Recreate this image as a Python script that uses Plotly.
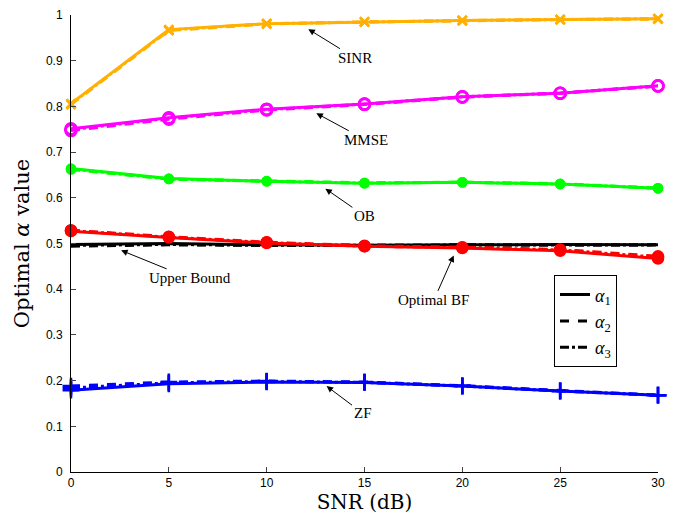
import plotly.graph_objects as go

snr = [0, 5, 10, 15, 20, 25, 30]

sinr_a1 = [0.806, 0.968, 0.981, 0.985, 0.988, 0.990, 0.992]
sinr_a2 = [0.804, 0.966, 0.980, 0.985, 0.987, 0.990, 0.991]
sinr_a3 = [0.805, 0.967, 0.981, 0.985, 0.988, 0.990, 0.992]

mmse_a1 = [0.751, 0.775, 0.794, 0.805, 0.821, 0.829, 0.845]
mmse_a2 = [0.747, 0.772, 0.792, 0.804, 0.820, 0.829, 0.844]
mmse_a3 = [0.749, 0.774, 0.793, 0.805, 0.821, 0.829, 0.845]

ob_a1 = [0.664, 0.642, 0.636, 0.632, 0.634, 0.630, 0.621]
ob_a2 = [0.662, 0.641, 0.637, 0.633, 0.634, 0.631, 0.621]
ob_a3 = [0.663, 0.641, 0.636, 0.632, 0.634, 0.630, 0.621]

ub_a1 = [0.498, 0.500, 0.497, 0.496, 0.497, 0.498, 0.497]
ub_a2 = [0.494, 0.497, 0.496, 0.496, 0.496, 0.497, 0.497]
ub_a3 = [0.496, 0.498, 0.496, 0.496, 0.497, 0.497, 0.497]

obf_a1 = [0.527, 0.513, 0.501, 0.494, 0.490, 0.484, 0.467]
obf_a2 = [0.529, 0.515, 0.503, 0.495, 0.492, 0.487, 0.472]
obf_a3 = [0.528, 0.514, 0.502, 0.494, 0.491, 0.486, 0.470]

zf_a1 = [0.179, 0.193, 0.197, 0.196, 0.188, 0.177, 0.168]
zf_a2 = [0.188, 0.197, 0.199, 0.197, 0.189, 0.178, 0.168]
zf_a3 = [0.184, 0.195, 0.198, 0.196, 0.188, 0.177, 0.168]

y_ticks = [0, 0.1, 0.2, 0.3, 0.4, 0.5, 0.6, 0.7, 0.8, 0.9, 1]
y_tick_labels = ["0", "0.1", "0.2", "0.3", "0.4", "0.5", "0.6", "0.7", "0.8", "0.9", "1"]
x_ticks = [0, 5, 10, 15, 20, 25, 30]

legend_names = ["<i>α</i><sub>1</sub>", "<i>α</i><sub>2</sub>", "<i>α</i><sub>3</sub>"]

labels = ["SINR", "MMSE", "OB", "Upper Bound", "Optimal BF", "ZF"]
label_tip_x = [12.13, 12.54, 13.0, 2.56, 19.56, 13.06]
label_tip_y = [0.969, 0.785, 0.620, 0.485, 0.474, 0.188]
label_ax = [47, 50, 39, 69, -20, 36]
label_ay = [29, 27, 27, 28, 45, 27]

methods = [
    ("#FFB000", "x-thin-open", 9, (sinr_a1, sinr_a2, sinr_a3)),
    ("#FF00FF", "circle-open", 11, (mmse_a1, mmse_a2, mmse_a3)),
    ("#00FF00", "circle", 8, (ob_a1, ob_a2, ob_a3)),
    ("#000000", None, 0, (ub_a1, ub_a2, ub_a3)),
    ("#FF0000", "circle", 10, (obf_a1, obf_a2, obf_a3)),
    ("#0000FF", "cross-thin-open", 12, (zf_a1, zf_a2, zf_a3)),
]
dashes = ["solid", "dash", "dashdot"]

fig = go.Figure()
for color, sym, msize, series in methods:
    for ys, d in zip(series, dashes):
        mode = "lines+markers" if sym else "lines"
        marker = dict(symbol=sym, size=msize, color=color,
                      line=dict(color=color, width=2.5)) if sym else None
        fig.add_trace(go.Scatter(
            x=snr, y=ys, mode=mode, showlegend=False, cliponaxis=False,
            line=dict(color=color, width=3, dash=d), marker=marker))

for name, d in zip(legend_names, dashes):
    fig.add_trace(go.Scatter(
        x=[None], y=[None], mode="lines", name=name,
        line=dict(color="black", width=3, dash=d)))

for txt, tx, ty, ax, ay in zip(labels, label_tip_x, label_tip_y, label_ax, label_ay):
    fig.add_annotation(
        x=tx, y=ty, text=txt, showarrow=True, ax=ax, ay=ay,
        arrowhead=2, arrowsize=1.3, arrowwidth=1, arrowcolor="black",
        font=dict(family="Liberation Serif", size=15, color="black"))

fig.update_layout(
    width=673, height=514,
    margin=dict(l=71, r=15, t=15, b=42),
    plot_bgcolor="white", paper_bgcolor="white",
    font=dict(family="Liberation Sans", size=12, color="black"),
    legend=dict(
        x=(554 - 71) / 587, y=(471.7 - 275) / 457, xanchor="left", yanchor="top",
        bgcolor="white", bordercolor="black", borderwidth=1,
        font=dict(family="Liberation Serif", size=18, color="black"),
        tracegroupgap=0),
)
fig.update_xaxes(
    range=[0, 30], tickvals=x_ticks, ticks="inside", ticklen=5, automargin=False,
    showline=True, linecolor="black", linewidth=1, showgrid=False, zeroline=False,
    title=dict(text="SNR (dB)", font=dict(family="DejaVu Serif", size=20), standoff=2),
)
fig.update_yaxes(
    range=[0, 1], tickvals=y_ticks, ticktext=y_tick_labels, ticks="inside", ticklen=5,
    ticklabelstandoff=5, automargin=False,
    showline=True, linecolor="black", linewidth=1, showgrid=False, zeroline=False,
    title=dict(text="Optimal <i>α</i> value", font=dict(family="DejaVu Serif", size=21), standoff=10),
)

fig.write_html(
    "out.html",
    config={"displayModeBar": False},
    post_script="document.body.style.margin='0';document.body.style.overflow='hidden';",
)
